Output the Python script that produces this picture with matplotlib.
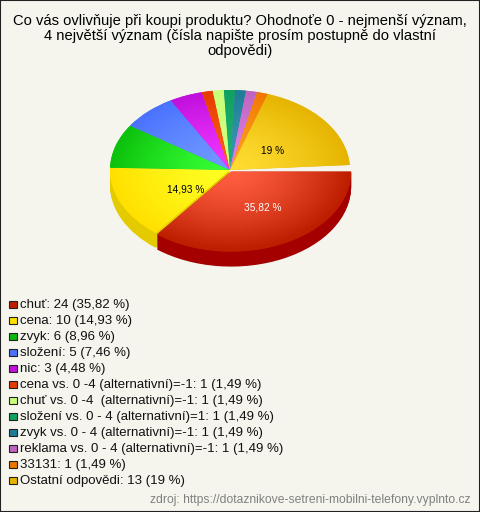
import numpy as np
import matplotlib
matplotlib.use("Agg")
import matplotlib.pyplot as plt
from matplotlib.colors import LinearSegmentedColormap
from matplotlib.patches import Rectangle

plt.rcParams['font.family'] = ['Liberation Sans', 'DejaVu Sans']

TITLE_LINES = ["Co vás ovlivňuje při koupi produktu? Ohodnoťe 0 - nejmenší význam,",
               "4 největší význam (čísla napište prosím postupně do vlastní",
               "odpovědi)"]
categories = ["chuť", "cena", "zvyk", "složení", "nic",
              "cena vs. 0 -4 (alternativní)=-1", "chuť vs. 0 -4  (alternativní)=-1",
              "složení vs. 0 - 4 (alternativní)=1", "zvyk vs. 0 - 4 (alternativní)=-1",
              "reklama vs. 0 - 4 (alternativní)=-1", "33131", "Ostatní odpovědi"]
counts = [24, 10, 6, 5, 3, 1, 1, 1, 1, 1, 1, 13]
percents = [35.82, 14.93, 8.96, 7.46, 4.48, 1.49, 1.49, 1.49, 1.49, 1.49, 1.49, 19]
percent_labels = ["35,82 %", "14,93 %", "8,96 %", "7,46 %", "4,48 %", "1,49 %", "1,49 %",
                  "1,49 %", "1,49 %", "1,49 %", "1,49 %", "19 %"]
SOURCE = "zdroj: https://dotaznikove-setreni-mobilni-telefony.vyplnto.cz"

edge_colors = ["#BE1E00", "#FFE000", "#0CC00C", "#4A72FF", "#C010DC", "#E63C00",
               "#C8FF78", "#10A060", "#1E7C96", "#BE64BE", "#F07800", "#E5B400"]
center_colors = ["#FF5F40", "#FFFF22", "#35FF35", "#7099FF", "#F035FF", "#FF5A14",
                 "#D0FF80", "#20B070", "#3C98B0", "#E080E8", "#FFA020", "#FFDC32"]
side_colors = ["#A50000", "#E3CB00", "#0A9A0A", "#3A5ACC", "#9A0CB0", "#B83000",
               "#A0CC60", "#0C8050", "#186078", "#985098", "#C06000", "#B89000"]
legend_colors = ["#BE1E00", "#FFE000", "#0CB80C", "#4A72FF", "#C010DC", "#E63C00",
                 "#C8FF78", "#10A060", "#1E7C96", "#BE64BE", "#E87800", "#E5B400"]
explode = [0.022] + [0] * 11

W, H = 480, 512
CX, CY, RX, RY, DEPTH = 230, 170, 120, 80, 15
BG = "#F5F5EE"
FULL_CIRCLE = 100.6   # the reference's slices leave a small gap before the red one

fractions = [p / FULL_CIRCLE for p in percents]

fig = plt.figure(figsize=(W / 100, H / 100), dpi=100, facecolor=BG)
ax = fig.add_axes([0, 0, 1, 1])
xlim = ((0 - CX) / RX, (W - CX) / RX)
ylim = ((CY - H) / RY, CY / RY)

# side wall: stacked pies, deepest first; only the front slices have a visible wall
for d in range(DEPTH, 0, -1):
    wedges, _ = ax.pie(fractions, startangle=0, counterclock=False, radius=1, normalize=False,
                       center=(0, -d / RY), colors=side_colors, explode=explode,
                       wedgeprops=dict(linewidth=0))
    for w in wedges:
        if np.sin(np.radians((w.theta1 + w.theta2) / 2)) > 0:
            w.set_visible(False)

# top surface with radial shading
wedges, _ = ax.pie(fractions, startangle=0, counterclock=False, radius=1, normalize=False,
                   colors=edge_colors, explode=explode, wedgeprops=dict(linewidth=0))
gx, gy = np.meshgrid(np.linspace(-1.05, 1.05, 420), np.linspace(-1.1, 1.1, 300))
rad = np.clip(np.hypot(gx, gy), 0, 1) ** 1.4
for w, c0, c1 in zip(wedges, center_colors, edge_colors):
    cmap = LinearSegmentedColormap.from_list("g", [c0, c1])
    im = ax.imshow(rad, cmap=cmap, vmin=0, vmax=1, origin="lower", aspect="auto",
                   extent=(-1.05, 1.05, -1.1, 1.1), interpolation="bilinear", zorder=3)
    im.set_clip_path(w)

ax.set_aspect("auto")
ax.set_xlim(*xlim)
ax.set_ylim(*ylim)
ax.set_axis_off()
ax.set_frame_on(False)


def px(x, y):
    return x / W, 1 - y / H


# slice labels
for idx, x, y, col in [(0, 263, 207, "white"), (1, 186, 189.5, "black"), (11, 273, 151, "black")]:
    fig.text(*px(x, y), percent_labels[idx], color=col, fontsize=7.3,
             ha="center", va="center", zorder=6)

# title
for line, y in zip(TITLE_LINES, [20.5, 36, 51.5]):
    fig.text(*px(240, y), line, fontsize=10.6, ha="center", va="center", color="black")

# legend
for i, (cat, n, pct, col) in enumerate(zip(categories, counts, percent_labels, legend_colors)):
    y = 304.5 + i * 16.03
    fig.add_artist(Rectangle(px(9, y + 3.5), 7.5 / W, 7.5 / H, transform=fig.transFigure,
                             facecolor=col, edgecolor="#222222", linewidth=0.8))
    fig.text(*px(20, y + 0.3), f"{cat}: {n} ({pct})", fontsize=9.5, color="#111111",
             ha="left", va="center")

fig.text(*px(470, 500.5), SOURCE, fontsize=8.75, color="#808080", ha="right", va="center")

# outer border
fig.add_artist(Rectangle((0, 0), 1, 1, transform=fig.transFigure, fill=False,
                         edgecolor="#222222", linewidth=1.5))
fig.savefig("out.png", dpi=100, facecolor=BG)
